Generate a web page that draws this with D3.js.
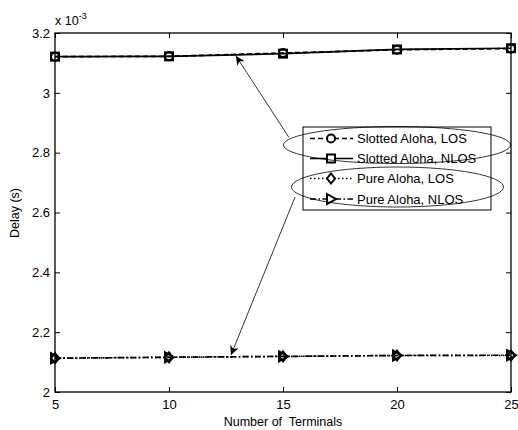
<!DOCTYPE html>
<html>
<head>
<meta charset="utf-8">
<script src="https://cdn.jsdelivr.net/npm/d3@7"></script>
<style>
    body { margin: 0; background: #fff; }
    text { font-family: "Liberation Sans", Arial, sans-serif; fill: #000; }
</style>
</head>
<body>
<script>
(function () {

    //chart data
    var terminals = [5, 10, 15, 20, 25];
    var slottedLOS = [3.121, 3.122, 3.133, 3.144, 3.148];
    var slottedNLOS = [3.121, 3.122, 3.131, 3.145, 3.149];
    var pureLOS = [2.113, 2.116, 2.119, 2.122, 2.122];
    var pureNLOS = [2.113, 2.116, 2.119, 2.122, 2.123];
    var xTicks = [5, 10, 15, 20, 25];
    var yTicks = [2, 2.2, 2.4, 2.6, 2.8, 3, 3.2];
    var seriesNames = ["Slotted Aloha, LOS", "Slotted Aloha, NLOS", "Pure Aloha, LOS", "Pure Aloha, NLOS"];

    var width = 518, height = 430;
    var margin = { top: 33, right: 7, bottom: 38, left: 55 };

    var svg = d3.select("body").append("svg")
        .attr("width", width)
        .attr("height", height);

    var x = d3.scaleLinear().domain([5, 25]).range([margin.left, width - margin.right]);
    var y = d3.scaleLinear().domain([2, 3.2]).range([height - margin.bottom, margin.top]);

    //arrow head marker
    svg.append("defs").append("marker")
        .attr("id", "arrow")
        .attr("viewBox", "0 0 10 10")
        .attr("refX", 10).attr("refY", 5)
        .attr("markerWidth", 9).attr("markerHeight", 9)
        .attr("markerUnits", "userSpaceOnUse")
        .attr("orient", "auto")
        .append("path")
        .attr("d", "M0,0 L10,5 L0,10 L3,5 Z")
        .attr("fill", "#000");

    //axes with inward ticks on all four sides
    var axisStyle = function (g) {
        g.select(".domain").remove();
        g.selectAll("line").attr("stroke", "#000");
        g.selectAll("text").style("font-size", "13px").style("font-family", "Liberation Sans, Arial, sans-serif");
    };
    svg.append("g").attr("transform", "translate(0," + y(2) + ")")
        .call(d3.axisBottom(x).tickValues(xTicks).tickSizeInner(-5).tickSizeOuter(0).tickPadding(8).tickFormat(d3.format("d")))
        .call(axisStyle);
    svg.append("g").attr("transform", "translate(0," + y(3.2) + ")")
        .call(d3.axisTop(x).tickValues(xTicks).tickSizeInner(-5).tickSizeOuter(0).tickFormat(""))
        .call(axisStyle);
    svg.append("g").attr("transform", "translate(" + x(5) + ",0)")
        .call(d3.axisLeft(y).tickValues(yTicks).tickSizeInner(-5).tickSizeOuter(0).tickPadding(5).tickFormat(function (d) { return d3.format("")(+d.toFixed(1)); }))
        .call(axisStyle);
    svg.append("g").attr("transform", "translate(" + x(25) + ",0)")
        .call(d3.axisRight(y).tickValues(yTicks).tickSizeInner(-5).tickSizeOuter(0).tickFormat(""))
        .call(axisStyle);

    svg.append("rect")
        .attr("x", x(5)).attr("y", y(3.2))
        .attr("width", x(25) - x(5)).attr("height", y(2) - y(3.2))
        .attr("fill", "none").attr("stroke", "#000").attr("stroke-width", 1.3);

    //exponent label
    var expo = svg.append("text").attr("x", x(5)).attr("y", 25).style("font-size", "12.5px");
    expo.append("tspan").text("x 10");
    expo.append("tspan").attr("dy", -6).style("font-size", "9px").text("-3");

    //axis titles
    svg.append("text")
        .attr("x", (x(5) + x(25)) / 2).attr("y", 426)
        .attr("text-anchor", "middle").style("font-size", "12.5px")
        .style("white-space", "pre")
        .text("Number of  Terminals");
    svg.append("text")
        .attr("transform", "translate(19," + 213 + ") rotate(-90)")
        .attr("text-anchor", "middle").style("font-size", "12.5px")
        .text("Delay (s)");

    var series = [
        { values: slottedLOS, dash: "5,3", shape: "circle" },
        { values: slottedNLOS, dash: null, shape: "square" },
        { values: pureLOS, dash: "1.5,2.5", shape: "diamond" },
        { values: pureNLOS, dash: "6,2.5,1.5,2.5", shape: "triangle" }
    ];

    function drawMarker(g, shape, cx, cy) {
        if (shape == "circle") {
            g.append("circle").attr("cx", cx).attr("cy", cy).attr("r", 4);
        } else if (shape == "square") {
            g.append("rect").attr("x", cx - 4).attr("y", cy - 4).attr("width", 8).attr("height", 8);
        } else if (shape == "diamond") {
            g.append("path").attr("d", "M" + cx + "," + (cy - 5) + " L" + (cx + 4) + "," + cy + " L" + cx + "," + (cy + 5) + " L" + (cx - 4) + "," + cy + " Z");
        } else {
            g.append("path").attr("d", "M" + (cx - 4) + "," + (cy - 5) + " L" + (cx + 5) + "," + cy + " L" + (cx - 4) + "," + (cy + 5) + " Z");
        }
    }

    var line = d3.line()
        .x(function (d, i) { return x(terminals[i]); })
        .y(function (d) { return y(d); });

    series.forEach(function (s) {
        svg.append("path")
            .datum(s.values)
            .attr("d", line)
            .attr("fill", "none")
            .attr("stroke", "#000")
            .attr("stroke-width", 1.7)
            .attr("stroke-dasharray", s.dash);
        var mg = svg.append("g").attr("fill", "none").attr("stroke", "#000").attr("stroke-width", 2);
        s.values.forEach(function (v, i) {
            drawMarker(mg, s.shape, x(terminals[i]), y(v));
        });
    });

    //legend
    var lg = { x: 303, y: 127, w: 188, h: 83 };
    svg.append("rect")
        .attr("x", lg.x).attr("y", lg.y).attr("width", lg.w).attr("height", lg.h)
        .attr("fill", "#fff").attr("stroke", "#000").attr("stroke-width", 1);
    var rowY = [138.5, 158.5, 178.5, 199];
    series.forEach(function (s, i) {
        svg.append("line")
            .attr("x1", 310).attr("x2", 353)
            .attr("y1", rowY[i]).attr("y2", rowY[i])
            .attr("stroke", "#000").attr("stroke-width", 1.7)
            .attr("stroke-dasharray", s.dash);
        var mg = svg.append("g").attr("fill", "#fff").attr("stroke", "#000").attr("stroke-width", 2);
        drawMarker(mg, s.shape, 331, rowY[i]);
        svg.append("text")
            .attr("x", 357).attr("y", rowY[i] + 4.5)
            .style("font-size", "13px")
            .text(seriesNames[i]);
    });

    //ellipses and arrows pointing at the curve groups
    svg.append("ellipse")
        .attr("cx", 397).attr("cy", 145).attr("rx", 113.5).attr("ry", 18.5)
        .attr("fill", "none").attr("stroke", "#000").attr("stroke-width", 0.8);
    svg.append("ellipse")
        .attr("cx", 397.5).attr("cy", 187).attr("rx", 106).attr("ry", 20)
        .attr("fill", "none").attr("stroke", "#000").attr("stroke-width", 0.8);

    var arrows = [
        { from: [15.26, 2.851], to: [12.94, 3.123] },
        { from: [15.53, 2.652], to: [12.72, 2.124] }
    ];
    arrows.forEach(function (a) {
        svg.append("line")
            .attr("x1", x(a.from[0])).attr("y1", y(a.from[1]))
            .attr("x2", x(a.to[0])).attr("y2", y(a.to[1]))
            .attr("stroke", "#000").attr("stroke-width", 0.8)
            .attr("marker-end", "url(#arrow)");
    });

})();
</script>
</body>
</html>
